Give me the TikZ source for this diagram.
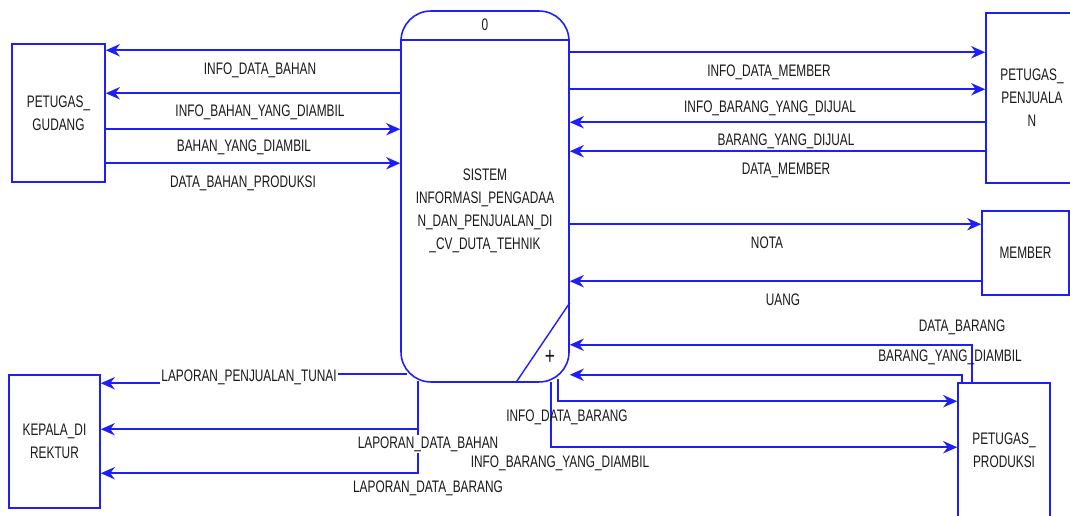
\documentclass[tikz,border=0pt]{standalone}
\usepackage{fontspec}
\setmainfont{Liberation Sans}[FakeStretch=0.71]
\usetikzlibrary{arrows.meta,calc}
\definecolor{dfdBlue}{RGB}{30,30,250}
\definecolor{dfdText}{RGB}{25,25,25}
\tikzset{
	ent/.style={
		draw=dfdBlue,
		line width=0.9pt,
		align=center,
		inner sep=0pt,
		text=dfdText
	},
	proc/.style={draw=dfdBlue, line width=0.9pt, rounded corners=17pt,
		minimum width=3.36cm, minimum height=7.42cm, inner sep=0pt},
	flow/.style={-{Stealth[length=8pt,width=7pt]}, dfdBlue, line width=1.1pt},
	lbl/.style={text=dfdText, inner sep=1pt}
}

\begin{document}
\begin{tikzpicture}[x=0.02cm, y=-0.02cm, font=\fontsize{9.5}{13}\selectfont]
	\useasboundingbox (0,0) rectangle (1070,516);
	% process
	\node[proc] (proc) at (485,196.5) {};
	\draw[dfdBlue, line width=0.9pt] ($(proc.north west)+(0,30)$) -- ($(proc.north east)+(0,30)$);
	\draw[dfdBlue, line width=0.8pt] ($(proc.south east)+(0,-80)$) -- ($(proc.south east)+(-54,0)$);
	\node[lbl] (pnum) at ($(proc.north)+(0,15)$) {0};
	\node[lbl, font=\fontsize{14}{14}\selectfont] (pplus) at (550,357) {+};
	\node[lbl, align=center] (pname) at (485,211) {SISTEM\\INFORMASI\_PENGADAA\\N\_DAN\_PENJUALAN\_DI\\\_CV\_DUTA\_TEHNIK};
	% entities
	\node[ent, minimum width=1.86cm, minimum height=2.76cm] (gudang) at (58.5,113) {PETUGAS\_\\GUDANG};
	\node[ent, minimum width=1.84cm, minimum height=3.4cm] (penj) at (1032,98) {PETUGAS\_\\PENJUALA\\N};
	\node[ent, minimum width=1.74cm, minimum height=1.68cm] (member) at (1025.5,253) {MEMBER};
	\node[ent, minimum width=1.84cm, minimum height=2.68cm] (prod) at (1004,450) {PETUGAS\_\\PRODUKSI};
	\node[ent, minimum width=1.82cm, minimum height=2.66cm] (kepala) at (54.5,441.5) {KEPALA\_DI\\REKTUR};
	% gudang flows
	\draw[flow] ($(proc.north west)+(0,40)$) coordinate (g1) -- (g1 -| gudang.east);
	\draw[flow] ($(proc.north west)+(0,83)$) coordinate (g2) -- (g2 -| gudang.east);
	\draw[flow] ($(gudang.north east)+(0,86)$) coordinate (g3) -- (g3 -| proc.west);
	\draw[flow] ($(gudang.north east)+(0,120)$) coordinate (g4) -- (g4 -| proc.west);
	\node[lbl] (l1) at (260,70) {INFO\_DATA\_BAHAN};
	\node[lbl] (l2) at (260,112) {INFO\_BAHAN\_YANG\_DIAMBIL};
	\node[lbl] (l3) at (244,147) {BAHAN\_YANG\_DIAMBIL};
	\node[lbl] (l4) at (243,183) {DATA\_BAHAN\_PRODUKSI};
	% penjualan and member flows
	\draw[flow] ($(proc.north east)+(0,42)$) coordinate (j1) -- (j1 -| penj.west);
	\draw[flow] ($(proc.north east)+(0,79)$) coordinate (j2) -- (j2 -| penj.west);
	\draw[flow] ($(penj.north west)+(0,110)$) coordinate (j3) -- (j3 -| proc.east);
	\draw[flow] ($(penj.north west)+(0,139)$) coordinate (j4) -- (j4 -| proc.east);
	\draw[flow] ($(member.north west)+(0,14)$) coordinate (m1) (m1 -| proc.east) -- (m1);
	\draw[flow] ($(member.north west)+(0,71)$) coordinate (m2) -- (m2 -| proc.east);
	\node[lbl] (l5) at (769,72) {INFO\_DATA\_MEMBER};
	\node[lbl] (l6) at (770,108) {INFO\_BARANG\_YANG\_DIJUAL};
	\node[lbl] (l7) at (786,141) {BARANG\_YANG\_DIJUAL};
	\node[lbl] (l8) at (786,170) {DATA\_MEMBER};
	\node[lbl] (l9) at (767,243) {NOTA};
	\node[lbl] (l10) at (783,300) {UANG};
	% produksi flows
	\draw[flow] ($(prod.north west)+(15,0)$) |- ($(proc.south east)+(0,-38)$);
	\draw[flow] ($(prod.north west)+(5,0)$) |- ($(proc.south east)+(0,-8)$);
	\draw[flow] ($(proc.south east)+(-12,-4)$) |- ($(prod.north west)+(0,19)$);
	\draw[flow] ($(proc.south east)+(-19,-1)$) |- ($(prod.north west)+(0,65)$);
	\node[lbl] (l11) at (962,327) {DATA\_BARANG};
	\node[lbl] (l12) at (950,357) {BARANG\_YANG\_DIAMBIL};
	\node[lbl] (l13) at (567,417) {INFO\_DATA\_BARANG};
	\node[lbl] (l14) at (560,463) {INFO\_BARANG\_YANG\_DIAMBIL};
	% kepala flows
	\draw[flow] ($(proc.south west)+(7,-9)$) -- ++(-157,0) |- ($(kepala.north east)+(0,9)$);
	\draw[flow] ($(proc.south west)+(18,-2)$) |- ($(kepala.north east)+(0,55)$);
	\draw[flow] ($(proc.south west)+(18,-2)$) |- ($(kepala.north east)+(0,99)$);
	\node[lbl, fill=white] (l15) at (249,377) {LAPORAN\_PENJUALAN\_TUNAI};
	\node[lbl, fill=white] (l16) at (428,444) {LAPORAN\_DATA\_BAHAN};
	\node[lbl] (l17) at (428,488) {LAPORAN\_DATA\_BARANG};
\end{tikzpicture}
\end{document}
